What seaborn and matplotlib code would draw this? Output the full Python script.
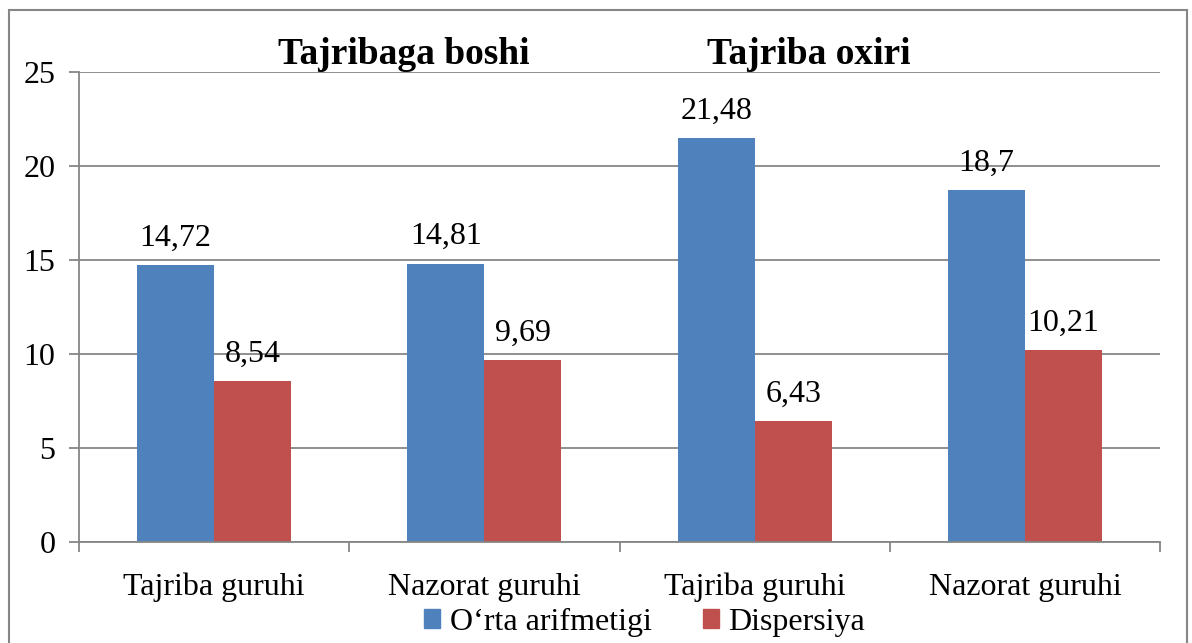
import numpy as np
import pandas as pd
import matplotlib.pyplot as plt
import matplotlib.patches as mpatches
import seaborn as sns

# data
groups = ['Tajriba guruhi', 'Nazorat guruhi', 'Tajriba guruhi', 'Nazorat guruhi']
keys = ['b_tajriba', 'b_nazorat', 'o_tajriba', 'o_nazorat']
ortacha = [14.72, 14.81, 21.48, 18.7]
dispersiya = [8.54, 9.69, 6.43, 10.21]
series = ['O\u2018rta arifmetigi', 'Dispersiya']
phases = ['Tajribaga boshi', 'Tajriba oxiri']

df = pd.DataFrame({
    'key': keys * 2,
    'value': ortacha + dispersiya,
    'series': [series[0]] * 4 + [series[1]] * 4,
})

sns.set_style('white')
plt.rcParams['font.family'] = ['Liberation Serif', 'DejaVu Serif']
plt.rcParams['text.color'] = 'black'
plt.rcParams['xtick.labelcolor'] = 'black'
plt.rcParams['ytick.labelcolor'] = 'black'

fig = plt.figure(figsize=(11.92, 6.43), dpi=100)
ax = fig.add_axes([0.0663, 0.157, 0.907, 0.731])

colors = ['#4F81BD', '#C0504D']
sns.barplot(data=df, x='key', y='value', hue='series', order=keys,
            hue_order=series, palette=colors, width=0.57, saturation=1,
            linewidth=0, edgecolor='none', ax=ax, legend=False)

grid_c = '#868686'
ax.set_ylim(0, 25)
ax.set_xlim(-0.5, 3.5)
ax.set_yticks(range(0, 26, 5))
ax.yaxis.grid(True, color=grid_c, lw=1.3)
ax.set_axisbelow(True)
for s in ['top', 'right']:
    ax.spines[s].set_visible(False)
for s in ['left', 'bottom']:
    ax.spines[s].set_color(grid_c)
    ax.spines[s].set_linewidth(1.3)

ax.set_xticks(range(4))
ax.set_xticklabels(groups, fontsize=23)
ax.set_xticks(np.arange(-0.5, 4, 1), minor=True)
ax.tick_params(axis='x', which='major', bottom=True, length=0, pad=22)
ax.tick_params(axis='x', which='minor', bottom=True, length=7, width=1.3, color=grid_c)
ax.tick_params(axis='y', left=True, length=7, width=1.3, color=grid_c, labelsize=23, pad=10)
ax.set_xlabel('')
ax.set_ylabel('')

for cont in ax.containers:
    labels = [f'{v:g}'.replace('.', ',') for v in cont.datavalues]
    ax.bar_label(cont, labels=labels, padding=9, fontsize=23, color='black')

# phase titles
ax.text(0.7, 1.0, phases[0], transform=ax.get_xaxis_transform(),
        ha='center', va='bottom', fontsize=27, fontweight='bold')
ax.text(2.2, 1.0, phases[1], transform=ax.get_xaxis_transform(),
        ha='center', va='bottom', fontsize=27, fontweight='bold')

handles = [mpatches.Patch(color=c, label=l) for c, l in zip(colors, series)]
fig.legend(handles=handles, loc='center', bbox_to_anchor=(0.541, 0.032),
           ncol=2, frameon=False, fontsize=23, handlelength=0.5,
           handleheight=0.5, handletextpad=0.3, columnspacing=1.6)

# outer chart border
fig.patches.append(mpatches.Rectangle((9 / 1192, -0.05), 1178 / 1192, 1.05 - 10 / 643,
                                      transform=fig.transFigure, fill=False,
                                      edgecolor=grid_c, lw=1.5))

fig.savefig('out.png', dpi=100)
